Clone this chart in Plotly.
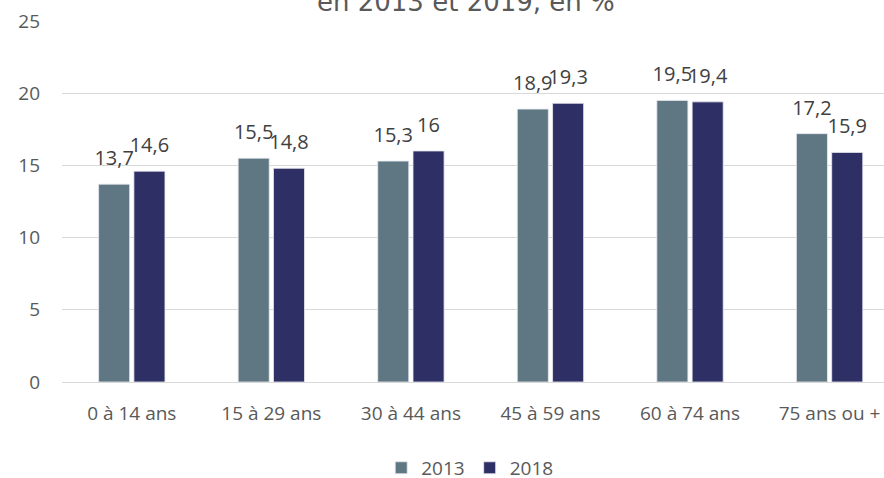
import plotly.graph_objects as go

categories = ["0 à 14 ans", "15 à 29 ans", "30 à 44 ans", "45 à 59 ans", "60 à 74 ans", "75 ans ou +"]
values_2013 = [13.7, 15.5, 15.3, 18.9, 19.5, 17.2]
values_2018 = [14.6, 14.8, 16.0, 19.3, 19.4, 15.9]
series_names = ["2013", "2018"]
colors = ["#5F7782", "#2E3065"]
title_text = "en 2013 et 2019, en %"

def fmt(v):
    return f"{v:g}".replace(".", ",")

FONT = "Open Sans"
fig = go.Figure()
for name, vals, col, grp in zip(series_names, [values_2013, values_2018], colors, ["a", "b"]):
    fig.add_trace(go.Bar(
        x=categories, y=vals, name=name, offsetgroup=grp,
        marker=dict(color=col, line=dict(color="#E8EAF0", width=0.8)),
        hoverinfo="skip",
    ))
for name, vals, grp in zip(series_names, [values_2013, values_2018], ["a", "b"]):
    fig.add_trace(go.Scatter(
        x=categories, y=vals, offsetgroup=grp, mode="markers+text",
        text=[fmt(v) for v in vals], textposition="top center",
        textfont=dict(family=FONT, size=20, color="#404040"),
        marker=dict(size=21, opacity=0), showlegend=False, hoverinfo="skip", cliponaxis=False,
    ))

fig.update_layout(
    width=884, height=478,
    margin=dict(l=62, r=0, t=21, b=96, autoexpand=False),
    paper_bgcolor="white", plot_bgcolor="white",
    barmode="group", bargap=0.494, bargroupgap=0.12,
    scattermode="group", scattergap=0.494,
    font=dict(family=FONT, size=19, color="#595959"),
    showlegend=True,
    legend=dict(orientation="h", x=0.496, xanchor="center", y=-0.238, yanchor="middle",
                font=dict(family=FONT, size=19, color="#595959"), itemwidth=30, traceorder="normal"),
    annotations=[dict(text=title_text, xref="paper", yref="paper", x=0.492, xanchor="center",
                      y=1.0, yshift=2, yanchor="bottom", showarrow=False,
                      font=dict(family="DejaVu Sans", size=26, color="#595959"))],
)
fig.update_xaxes(range=[-0.5, 5.39], showgrid=False, showline=False, ticks="",
                 ticklabelstandoff=18, tickfont=dict(family=FONT, size=19, color="#595959"))
fig.update_yaxes(range=[0, 25], dtick=5, showgrid=True, gridcolor="#D9D9D9", gridwidth=1,
                 zeroline=True, zerolinecolor="#D9D9D9", zerolinewidth=1, showline=False,
                 ticklabelstandoff=21, tickfont=dict(family=FONT, size=19, color="#595959"))
fig.write_html("out.html", config={"displayModeBar": False},
               post_script="document.body.style.margin='0';")
